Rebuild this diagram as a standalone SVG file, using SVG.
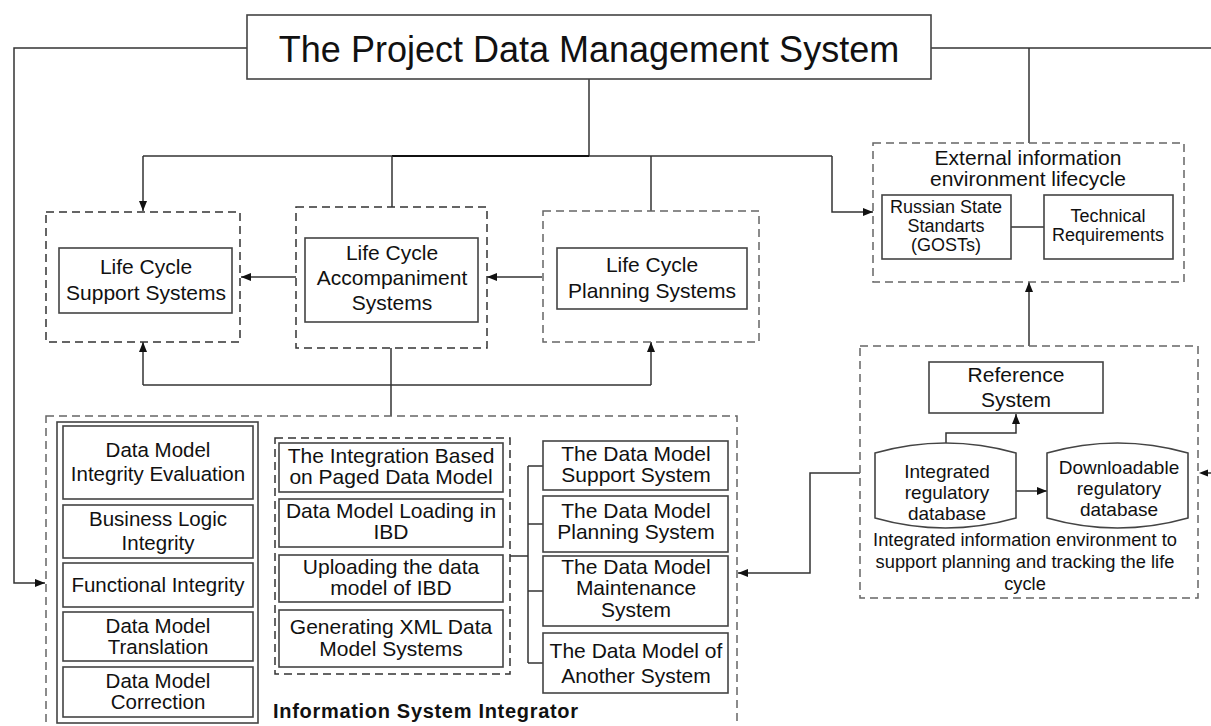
<svg xmlns="http://www.w3.org/2000/svg" width="1211" height="726" viewBox="0 0 1211 726">
  <style>
    .box { fill: #fff; stroke: #444; stroke-width: 1.6; }
    .grp { fill: none; stroke: #666; stroke-width: 1.5; stroke-dasharray: 8 5; }
    .grpd { fill: none; stroke: #333; stroke-width: 1.5; stroke-dasharray: 8 5; }
    .ln { fill: none; stroke: #333; stroke-width: 1.5; }
    .arr { fill: none; stroke: #333; stroke-width: 1.5; marker-end: url(#ah); }
    text { font-family: "Liberation Sans", Arial, sans-serif; fill: #111; text-anchor: middle; }
    .t21 { font-size: 21px; }
    .t20 { font-size: 20.5px; }
    .t19 { font-size: 19px; }
    .t18 { font-size: 18px; }
  </style>
  <defs>
    <marker id="ah" viewBox="0 0 10 8" refX="10" refY="4" markerWidth="10" markerHeight="8" markerUnits="userSpaceOnUse" orient="auto">
      <path d="M0,0 L10,4 L0,8 z" fill="#111"/>
    </marker>
  </defs>
  <rect width="1211" height="726" fill="#fff"/>

  <!-- connectors -->
  <g id="connectors">
    <path class="arr" d="M247,48 H14 V583 H45"/>
    <path class="ln" d="M931,48 H1211"/>
    <path class="ln" d="M1029,48 V143"/>
    <path class="ln" d="M589,79 V156"/>
    <path class="ln" d="M143,156 H832"/>
    <path class="ln" style="stroke:#111;stroke-width:1.8" d="M392,156 H589"/>
    <path class="arr" d="M143,156 V211"/>
    <path class="ln" d="M392,156 V207"/>
    <path class="ln" d="M651,156 V211"/>
    <path class="arr" d="M832,156 V212 H873"/>
    <path class="arr" d="M296,277 H241"/>
    <path class="arr" d="M542,277 H487"/>
    <path class="ln" d="M391,416 V348"/>
    <path class="ln" d="M143,385 H651"/>
    <path class="arr" d="M143,385 V342"/>
    <path class="arr" d="M651,385 V342"/>
    <path class="arr" d="M1029,346 V282"/>
    <path class="ln" d="M1011,227 H1044"/>
    <path class="arr" d="M860,473 H810 V573 H738"/>
    <path class="arr" d="M1016,491 H1047"/>
    <path class="arr" d="M946,443 V433 H1016 V414"/>
    <path class="ln" d="M1211,473 H1206"/>
    <path d="M1199,473 L1208,469.5 L1208,476.5 z" fill="#111"/>
    <path class="ln" d="M510,556 H528 M528,466 V663 M528,466 H543 M528,524 H543 M528,591 H543 M528,663 H543"/>
  </g>

  <!-- top-level system -->
  <g id="pdm">
    <rect class="box" x="247" y="15" width="684" height="64"/>
    <text x="589" y="62" style="font-size:36px">The Project Data Management System</text>
  </g>

  <!-- life cycle systems -->
  <g id="support">
    <rect class="grpd" x="46" y="212" width="194" height="130"/>
    <rect class="box" x="59" y="248" width="173" height="65"/>
    <text class="t21" x="146" y="274">Life Cycle</text>
    <text class="t21" x="146" y="300">Support Systems</text>
  </g>
  <g id="accompaniment">
    <rect class="grpd" x="296" y="207" width="191" height="141"/>
    <rect class="box" x="305" y="238" width="173" height="84"/>
    <text class="t21" x="392" y="260">Life Cycle</text>
    <text class="t21" x="392" y="285">Accompaniment</text>
    <text class="t21" x="392" y="310">Systems</text>
  </g>
  <g id="planning">
    <rect class="grp" x="543" y="211" width="216" height="131"/>
    <rect class="box" x="557" y="248" width="190" height="61"/>
    <text class="t21" x="652" y="272">Life Cycle</text>
    <text class="t21" x="652" y="298">Planning Systems</text>
  </g>

  <!-- external environment -->
  <g id="external">
    <rect class="grp" x="873" y="143" width="311" height="139"/>
    <text class="t21" x="1028" y="165">External information</text>
    <text class="t21" x="1028" y="186">environment lifecycle</text>
    <g id="gosts">
      <rect class="box" x="882" y="195" width="129" height="64"/>
      <text class="t18" x="946" y="213">Russian State</text>
      <text class="t18" x="946" y="232">Standarts</text>
      <text class="t18" x="946" y="251">(GOSTs)</text>
    </g>
    <g id="tech-req">
      <rect class="box" x="1044" y="195" width="129" height="64"/>
      <text class="t18" x="1108" y="222">Technical</text>
      <text class="t18" x="1108" y="241">Requirements</text>
    </g>
  </g>

  <!-- integrated information environment -->
  <g id="environment">
    <rect class="grp" x="860" y="346" width="338" height="252"/>
    <g id="reference">
      <rect class="box" x="929" y="362" width="174" height="51"/>
      <text class="t21" x="1016" y="382">Reference</text>
      <text class="t21" x="1016" y="407">System</text>
    </g>
    <g id="integrated-db">
      <path class="box" d="M875,453 Q945.5,433 1016,453 L1016,518 Q945.5,538 875,518 Z"/>
      <text class="t19" x="947" y="478">Integrated</text>
      <text class="t19" x="947" y="499">regulatory</text>
      <text class="t19" x="947" y="520">database</text>
    </g>
    <g id="downloadable-db">
      <path class="box" d="M1047,453 Q1117.5,433 1188,453 L1188,518 Q1117.5,538 1047,518 Z"/>
      <text class="t19" x="1119" y="474">Downloadable</text>
      <text class="t19" x="1119" y="495">regulatory</text>
      <text class="t19" x="1119" y="516">database</text>
    </g>
    <text class="t18" x="1025" y="546" style="font-size:18.3px">Integrated information environment to</text>
    <text class="t18" x="1025" y="568" style="font-size:18.3px">support planning and tracking the life</text>
    <text class="t18" x="1025" y="590" style="font-size:18.3px">cycle</text>
  </g>

  <!-- information system integrator -->
  <g id="integrator">
    <rect class="grp" x="46" y="416" width="691" height="320"/>
    <text x="273" y="718" style="font-size:20px;font-weight:bold;text-anchor:start" textLength="305" lengthAdjust="spacing">Information System Integrator</text>

    <g id="integrity-checks">
      <rect class="box" x="57" y="422" width="201" height="301"/>
      <rect class="box" x="63" y="426" width="190" height="73"/>
      <text class="t20" x="158" y="457">Data Model</text>
      <text class="t20" x="158" y="481">Integrity Evaluation</text>
      <rect class="box" x="63" y="505" width="190" height="53"/>
      <text class="t20" x="158" y="526">Business Logic</text>
      <text class="t20" x="158" y="550">Integrity</text>
      <rect class="box" x="63" y="563" width="190" height="44"/>
      <text class="t20" x="158" y="592">Functional Integrity</text>
      <rect class="box" x="63" y="612" width="190" height="49"/>
      <text class="t20" x="158" y="633">Data Model</text>
      <text class="t20" x="158" y="654">Translation</text>
      <rect class="box" x="63" y="667" width="190" height="50"/>
      <text class="t20" x="158" y="688">Data Model</text>
      <text class="t20" x="158" y="709">Correction</text>
    </g>

    <g id="ibd-operations">
      <rect class="grpd" x="275" y="438" width="235" height="236"/>
      <rect class="box" x="279" y="443" width="224" height="49"/>
      <text class="t21" x="391" y="463">The Integration Based</text>
      <text class="t21" x="391" y="484">on Paged Data Model</text>
      <rect class="box" x="279" y="499" width="224" height="48"/>
      <text class="t21" x="391" y="518">Data Model Loading in</text>
      <text class="t21" x="391" y="539">IBD</text>
      <rect class="box" x="279" y="555" width="224" height="47"/>
      <text class="t21" x="391" y="574">Uploading the data</text>
      <text class="t21" x="391" y="595">model of IBD</text>
      <rect class="box" x="279" y="610" width="224" height="57"/>
      <text class="t21" x="391" y="634">Generating XML Data</text>
      <text class="t21" x="391" y="656">Model Systems</text>
    </g>

    <g id="data-models">
      <rect class="box" x="543" y="441" width="185" height="49"/>
      <text class="t21" x="636" y="461">The Data Model</text>
      <text class="t21" x="636" y="482">Support System</text>
      <rect class="box" x="543" y="496" width="185" height="56"/>
      <text class="t21" x="636" y="518">The Data Model</text>
      <text class="t21" x="636" y="539">Planning System</text>
      <rect class="box" x="543" y="556" width="185" height="70"/>
      <text class="t21" x="636" y="574">The Data Model</text>
      <text class="t21" x="636" y="595">Maintenance</text>
      <text class="t21" x="636" y="617">System</text>
      <rect class="box" x="543" y="633" width="185" height="60"/>
      <text class="t21" x="636" y="658">The Data Model of</text>
      <text class="t21" x="636" y="683">Another System</text>
    </g>
  </g>
</svg>
